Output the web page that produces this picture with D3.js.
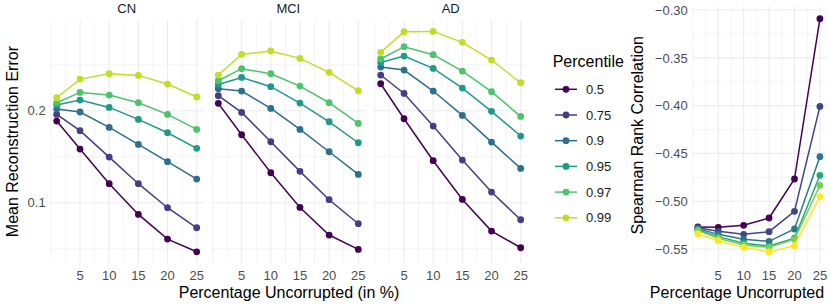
<!DOCTYPE html>
<html lang="en">
<head>
<meta charset="utf-8">
<title>Reconstruction error</title>
<style>
  body { margin: 0; background: #fff; }
  text { font-family: "Liberation Sans", Arial, Helvetica, sans-serif; }
</style>
<script src="https://d3js.org/d3.v7.min.js"></script>
</head>
<body>
<script>
// data
var pctUncorrupted = [1, 5, 10, 15, 20, 25];
var percentiles = ["0.5", "0.75", "0.9", "0.95", "0.97", "0.99"];
var groups = ["CN", "MCI", "AD"];

// mean reconstruction error, one row per percentile
var errCN = [
  [0.1888, 0.1583, 0.1207, 0.0873, 0.0605, 0.0467],
  [0.1960, 0.1783, 0.1496, 0.1207, 0.0946, 0.0728],
  [0.2018, 0.1986, 0.1819, 0.1634, 0.1446, 0.1257],
  [0.2062, 0.2116, 0.2036, 0.1906, 0.1761, 0.1591],
  [0.2087, 0.2199, 0.2170, 0.2087, 0.1960, 0.1797],
  [0.2141, 0.2344, 0.2402, 0.2384, 0.2290, 0.2149]
];
var errMCI = [
  [0.2080, 0.1739, 0.1326, 0.0949, 0.0649, 0.0493],
  [0.2163, 0.1982, 0.1663, 0.1341, 0.1033, 0.0772],
  [0.2239, 0.2214, 0.2025, 0.1797, 0.1554, 0.1308],
  [0.2286, 0.2362, 0.2261, 0.2083, 0.1880, 0.1652],
  [0.2326, 0.2457, 0.2402, 0.2268, 0.2087, 0.1862],
  [0.2388, 0.2612, 0.2649, 0.2569, 0.2417, 0.2217]
];
var errAD = [
  [0.2293, 0.1913, 0.1457, 0.1036, 0.0692, 0.0511],
  [0.2388, 0.2188, 0.1833, 0.1464, 0.1116, 0.0815],
  [0.2475, 0.2442, 0.2214, 0.1949, 0.1659, 0.1373],
  [0.2525, 0.2594, 0.2460, 0.2246, 0.1993, 0.1725],
  [0.2562, 0.2696, 0.2609, 0.2431, 0.2207, 0.1938],
  [0.2634, 0.2859, 0.2862, 0.2743, 0.2551, 0.2304]
];
// spearman rank correlation, one row per percentile
var spearman = [
  [-0.5270, -0.5273, -0.5252, -0.5176, -0.4768, -0.3091],
  [-0.5277, -0.5315, -0.5347, -0.5319, -0.5106, -0.4008],
  [-0.5287, -0.5347, -0.5399, -0.5420, -0.5291, -0.4534],
  [-0.5298, -0.5371, -0.5441, -0.5469, -0.5388, -0.4729],
  [-0.5308, -0.5388, -0.5458, -0.5483, -0.5399, -0.4834],
  [-0.5343, -0.5413, -0.5483, -0.5531, -0.5465, -0.4953]
];
var xMajor = [5, 10, 15, 20, 25];
var xMinor = [0, 2.5, 7.5, 12.5, 17.5, 22.5];
var errMajor = [0.1, 0.2];
var errMinor = [0.05, 0.15, 0.25];
var rhoMajor = [-0.55, -0.50, -0.45, -0.40, -0.35, -0.30];
var rhoMinor = [-0.525, -0.475, -0.425, -0.375, -0.325];

var errByGroup = [errCN, errMCI, errAD];

var width = 831, height = 306;
var svg = d3.select("body").append("svg")
  .attr("width", width)
  .attr("height", height);

// viridis, left panels stop short of the yellow end
var colLeft = percentiles.map(function(p, i) { return d3.interpolateViridis(i / 5 * 0.9); });
var colRight = percentiles.map(function(p, i) { return d3.interpolateViridis(i / 5); });

function expand(ext) {
  var d = (ext[1] - ext[0]) * 0.05;
  return [ext[0] - d, ext[1] + d];
}

var tickCol = "#4d4d4d", gridCol = "#ebebeb";
var tickSize = "13px", titleSize = "16px";

function drawPanel(g, x, y, xTicks, yTicks, yMinor, yFmt, showY) {
  var r = x.range(), ry = y.range();
  g.selectAll(".minx").data(xMinor.filter(function(v) { return v >= x.domain()[0]; }))
    .enter().append("line")
    .attr("x1", x).attr("x2", x).attr("y1", ry[0]).attr("y2", ry[1])
    .attr("stroke", gridCol).attr("stroke-width", 0.55);
  g.selectAll(".miny").data(yMinor).enter().append("line")
    .attr("x1", r[0]).attr("x2", r[1]).attr("y1", y).attr("y2", y)
    .attr("stroke", gridCol).attr("stroke-width", 0.55);
  g.selectAll(".majx").data(xTicks).enter().append("line")
    .attr("x1", x).attr("x2", x).attr("y1", ry[0]).attr("y2", ry[1])
    .attr("stroke", gridCol).attr("stroke-width", 1.1);
  g.selectAll(".majy").data(yTicks).enter().append("line")
    .attr("x1", r[0]).attr("x2", r[1]).attr("y1", y).attr("y2", y)
    .attr("stroke", gridCol).attr("stroke-width", 1.1);

  // tick labels
  g.selectAll(".xl").data(xTicks).enter().append("text")
    .attr("x", x).attr("y", 279.5)
    .attr("text-anchor", "middle")
    .style("font-size", tickSize).style("fill", tickCol)
    .text(function(d) { return d; });
  if (showY) {
    g.selectAll(".yl").data(yTicks).enter().append("text")
      .attr("x", r[0] - 4).attr("y", y).attr("dy", "0.36em")
      .attr("text-anchor", "end")
      .style("font-size", tickSize).style("fill", tickCol)
      .text(yFmt);
  }
}

function drawSeries(g, x, y, rows, cols) {
  var line = d3.line()
    .x(function(d, i) { return x(pctUncorrupted[i]); })
    .y(function(d) { return y(d); });
  rows.forEach(function(row, k) {
    g.append("path").datum(row)
      .attr("d", line)
      .attr("fill", "none")
      .attr("stroke", cols[k])
      .attr("stroke-width", 1.5);
    g.selectAll(".pt" + k).data(row).enter().append("circle")
      .attr("cx", function(d, i) { return x(pctUncorrupted[i]); })
      .attr("cy", y)
      .attr("r", 3.4)
      .attr("fill", cols[k]);
  });
}

// ---- facets: reconstruction error ----
var allErr = [];
errByGroup.forEach(function(m) { m.forEach(function(r) { allErr = allErr.concat(r); }); });
var yErr = d3.scaleLinear().domain(expand(d3.extent(allErr))).range([262.8, 20.4]);
var panelLeft = [49.7, 211.3, 373.7], panelW = 154;

groups.forEach(function(name, gi) {
  var x = d3.scaleLinear().domain(expand(d3.extent(pctUncorrupted)))
    .range([panelLeft[gi], panelLeft[gi] + panelW]);
  var g = svg.append("g");
  drawPanel(g, x, yErr, xMajor, errMajor, errMinor, d3.format(".1f"), gi == 0);
  drawSeries(g, x, yErr, errByGroup[gi], colLeft);
  g.append("text")
    .attr("x", panelLeft[gi] + panelW / 2).attr("y", 12.9)
    .attr("text-anchor", "middle")
    .style("font-size", tickSize).style("fill", "#1a1a1a")
    .text(name);
});

svg.append("text")
  .attr("transform", "translate(17.5," + ((262.8 + 20.4) / 2) + ") rotate(-90)")
  .attr("text-anchor", "middle")
  .style("font-size", titleSize)
  .text("Mean Reconstruction Error");
svg.append("text")
  .attr("x", 289).attr("y", 298)
  .attr("text-anchor", "middle")
  .style("font-size", titleSize)
  .text("Percentage Uncorrupted (in %)");

// ---- legend ----
var leg = svg.append("g");
leg.append("text").attr("x", 552.7).attr("y", 66.7)
  .style("font-size", titleSize).text("Percentile");
percentiles.forEach(function(p, i) {
  var cy = 89.3 + i * 25.7;
  leg.append("line").attr("x1", 555).attr("x2", 577).attr("y1", cy).attr("y2", cy)
    .attr("stroke", colLeft[i]).attr("stroke-width", 1.5);
  leg.append("circle").attr("cx", 566).attr("cy", cy).attr("r", 3.4).attr("fill", colLeft[i]);
  leg.append("text").attr("x", 586).attr("y", cy).attr("dy", "0.36em")
    .style("font-size", tickSize).style("fill", "#1a1a1a").text(p);
});

// ---- spearman panel ----
var allRho = [];
spearman.forEach(function(r) { allRho = allRho.concat(r); });
var xR = d3.scaleLinear().domain(expand(d3.extent(pctUncorrupted))).range([691.8, 826]);
var yR = d3.scaleLinear().domain(expand(d3.extent(allRho))).range([263.6, 7.1]);
var gR = svg.append("g");
drawPanel(gR, xR, yR, xMajor, rhoMajor, rhoMinor,
  function(d) { return d3.format(".2f")(d).replace("-", "\u2212"); }, true);
drawSeries(gR, xR, yR, spearman, colRight);

svg.append("text")
  .attr("transform", "translate(643," + ((263.6 + 7.1) / 2) + ") rotate(-90)")
  .attr("text-anchor", "middle")
  .style("font-size", titleSize)
  .text("Spearman Rank Correlation");
svg.append("text")
  .attr("x", 737).attr("y", 298.3)
  .attr("text-anchor", "middle")
  .style("font-size", titleSize)
  .text("Percentage Uncorrupted");
</script>
</body>
</html>
